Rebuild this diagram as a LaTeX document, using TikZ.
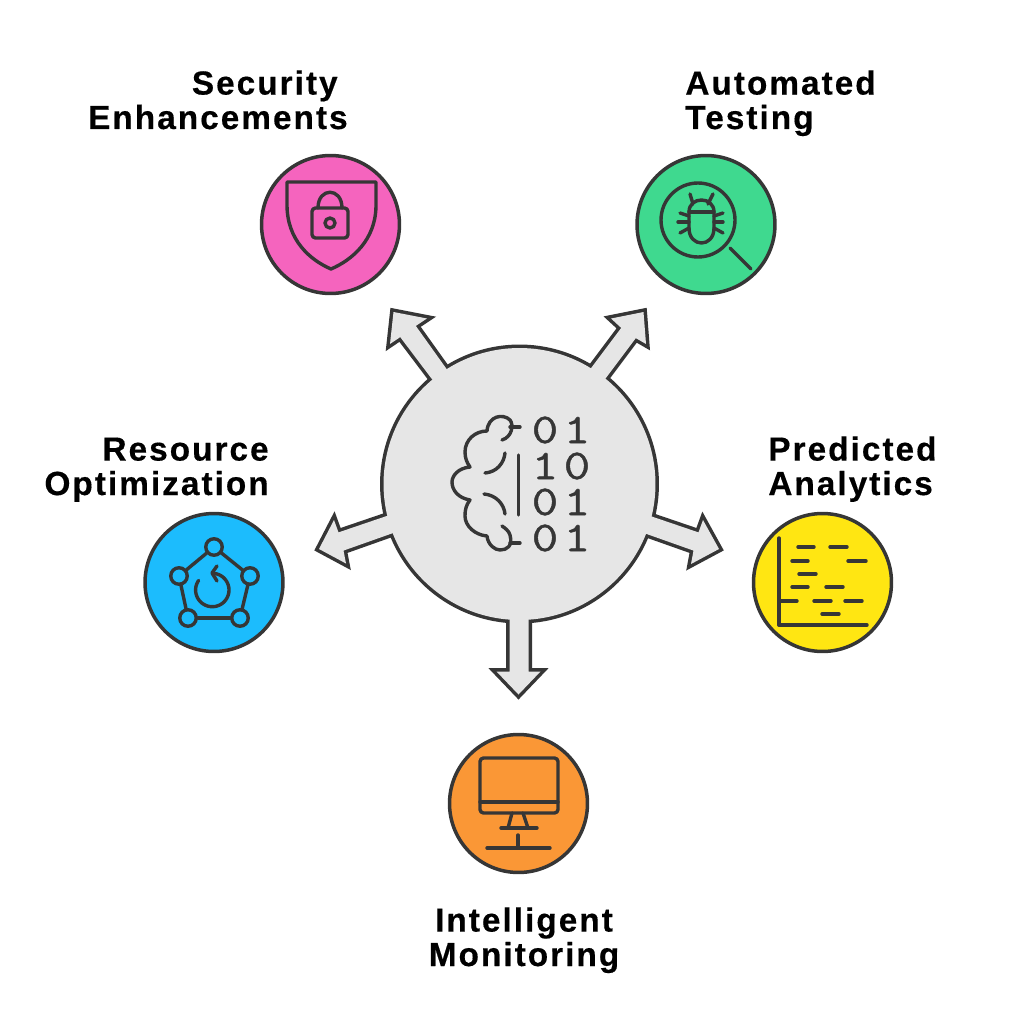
\documentclass[tikz,border=0pt]{standalone}
\usepackage{fontspec}
\setmainfont{Liberation Sans}
\newfontfamily\digitfont[FakeStretch=1.22,FakeBold=1.1]{Latin Modern Mono}
\definecolor{inkline}{HTML}{363636}
\definecolor{hubgray}{HTML}{E6E6E6}
\definecolor{pinkbadge}{HTML}{F564BE}
\definecolor{greenbadge}{HTML}{3FD98F}
\definecolor{bluebadge}{HTML}{1CBCFD}
\definecolor{yellowbadge}{HTML}{FFE612}
\definecolor{orangebadge}{HTML}{FA9736}
\tikzset{
  badge/.style={circle,draw=inkline,line width=0.07cm,minimum size=2.76cm,inner sep=0pt},
  iconline/.style={draw=inkline,line width=0.068cm,line cap=round,line join=round},
  headline/.style={font=\fontsize{19}{19.6}\selectfont\bfseries\addfontfeature{LetterSpace=6,FakeBold=0.4},text=black,inner sep=0pt},
  digit/.style={font=\fontsize{24}{24}\selectfont\digitfont,text=inkline,inner sep=0pt},
  hubedge/.style={draw=inkline,line width=0.14cm,line join=miter,miter limit=4},
}
\begin{document}
\begin{tikzpicture}[x=0.02cm,y=-0.02cm]
    \useasboundingbox (0,0) rectangle (1024,1024);
    \coordinate (c) at (519.5,484);

    % Drawing outline of hub and its five arrows
    \draw [hubedge] (c) circle (2.72cm);%
    \draw [hubedge] (c) -- (445.8,367.9) -- (415.8,325.9) -- (427,318.5) -- (393.5,312) -- (390,344) -- (400.2,337.1) -- (431.2,378.1) -- cycle;%
    \draw [hubedge] (c) -- (591.2,367.9) -- (621.2,327.9) -- (611,318.5) -- (643.5,312) -- (646,344) -- (635.8,338.1) -- (605.8,378.1) -- cycle;%
    \draw [hubedge] (c) -- (651.5,516.4) -- (698.5,532.4) -- (703,520) -- (719,549) -- (691,564) -- (693.5,550.6) -- (645.5,533.6) -- cycle;%
    \draw [hubedge] (c) -- (528.5,619) -- (528.5,671.5) -- (540.5,671.5) -- (518.5,694.5) -- (496.5,671.5) -- (509.5,671.5) -- (509.5,619) -- cycle;%
    \draw [hubedge] (c) -- (385.5,516.4) -- (338.5,532.4) -- (334,520) -- (319,549) -- (346,563.5) -- (343.5,550.6) -- (391.5,533.6) -- cycle;%

    % Filling hub and its five arrows
    \fill [hubgray] (c) circle (2.72cm);%
    \fill [hubgray] (c) -- (445.8,367.9) -- (415.8,325.9) -- (427,318.5) -- (393.5,312) -- (390,344) -- (400.2,337.1) -- (431.2,378.1) -- cycle;%
    \fill [hubgray] (c) -- (591.2,367.9) -- (621.2,327.9) -- (611,318.5) -- (643.5,312) -- (646,344) -- (635.8,338.1) -- (605.8,378.1) -- cycle;%
    \fill [hubgray] (c) -- (651.5,516.4) -- (698.5,532.4) -- (703,520) -- (719,549) -- (691,564) -- (693.5,550.6) -- (645.5,533.6) -- cycle;%
    \fill [hubgray] (c) -- (528.5,619) -- (528.5,671.5) -- (540.5,671.5) -- (518.5,694.5) -- (496.5,671.5) -- (509.5,671.5) -- (509.5,619) -- cycle;%
    \fill [hubgray] (c) -- (385.5,516.4) -- (338.5,532.4) -- (334,520) -- (319,549) -- (346,563.5) -- (343.5,550.6) -- (391.5,533.6) -- cycle;%

    % Drawing brain of hub
    \draw [iconline] (520,427) -- (510,427);%
    \draw [iconline] (502,440) .. controls (512,437) and (514,425) .. (510,420) .. controls (503,413) and (488,416) .. (487,431) .. controls (475,431) and (465,440) .. (465,452) .. controls (465,458) and (467,463) .. (470,467) .. controls (458,468) and (452,476) .. (452,482) .. controls (452,490) and (458,498) .. (470,500) .. controls (466,505) and (465,510) .. (465,516) .. controls (465,526) and (475,535) .. (487,536) .. controls (488,545) and (495,550) .. (500,550) .. controls (507,550) and (513,546) .. (510,535) .. controls (509,531) and (505,528) .. (502,526);%
    \draw [iconline] (510,543) -- (520,543);%
    \draw [iconline] (505,453) .. controls (504,463) and (497,472) .. (485,473);%
    \draw [iconline] (484,494) .. controls (496,495) and (504,504) .. (505,514);%
    \draw [iconline] (518.5,455) -- (518.5,515);%

    % Marking digits of hub
    \foreach \row/\ypos/\first/\second in {a/430/0/1, b/466/1/0, c/502/0/1, d/538/0/1} {
        \node [digit] (left\row) at (545,\ypos) {\first};
        \node [digit] (right\row) at (577,\ypos) {\second};
    }

    % Marking badges
    \node [badge,fill=pinkbadge] (security) at (330.5,224.5) {};
    \node [badge,fill=greenbadge] (testing) at (706,224.5) {};
    \node [badge,fill=bluebadge] (resource) at (214,582.5) {};
    \node [badge,fill=yellowbadge] (analytics) at (822.5,582.5) {};
    \node [badge,fill=orangebadge] (monitoring) at (518.5,803.5) {};

    % Drawing shield and lock
    \draw [iconline] (287,182) -- (287,205) .. controls (287,240) and (310,260) .. (331,269) .. controls (352,260) and (376,240) .. (376,205) -- (376,182) -- cycle;%
    \draw [iconline,rounded corners=2] (312,208) rectangle (348,238);%
    \draw [iconline] (318,208) .. controls (318,187) and (342,187) .. (342,208);%
    \draw [iconline] (330,223) circle (0.1cm);%

    % Drawing magnifier and bug
    \draw [iconline] (698,220) circle (0.74cm);%
    \draw [iconline] (730,248) -- (751,269);%
    \draw [iconline] (689,212) .. controls (689,196) and (714,196) .. (714,212) -- (714,228) .. controls (714,248) and (689,248) .. (689,228) -- cycle;%
    \draw [iconline] (689,212) -- (714,212);%
    \draw [iconline] (690,194) -- (693,204);%
    \draw [iconline] (713,194) -- (708,204);%
    \draw [iconline] (680,213) -- (689,216);%
    \draw [iconline] (678,222) -- (689,222);%
    \draw [iconline] (680,233) -- (689,228);%
    \draw [iconline] (723,213) -- (714,216);%
    \draw [iconline] (723,222) -- (714,222);%
    \draw [iconline] (723,233) -- (714,228);%

    % Drawing pentagon and loop
    \foreach \pname/\ppos in {pa/{214,547}, pb/{250,576}, pc/{240,618}, pd/{188,618}, pe/{179,576}} {
        \node [circle,iconline,minimum size=0.33cm,inner sep=0pt] (\pname) at (\ppos) {};
    }
    \draw [iconline] (pa) -- (pb);%
    \draw [iconline] (pb) -- (pc);%
    \draw [iconline] (pc) -- (pd);%
    \draw [iconline] (pd) -- (pe);%
    \draw [iconline] (pe) -- (pa);%
    \draw [iconline] plot [domain=145:445,samples=50,smooth] ({212.3+16.7*cos(\x)},{590-16.7*sin(\x)});%
    \draw [iconline] (217,566) -- (212,573) -- (217,581);%

    % Drawing chart
    \draw [iconline] (779,538) -- (779,625) -- (867,625);%
    \foreach \xa/\xb/\ypos in {798/814/547, 830/847/547, 792/808/561, 848/866/561, 799/816/574, 792/808/587, 826/843/587, 780/797/601, 814/831/601, 845/862/601, 822/839/614} {
        \draw [iconline] (\xa,\ypos) -- (\xb,\ypos);%
    }

    % Drawing monitor
    \draw [iconline,rounded corners=2] (480,758) rectangle (558,813);%
    \draw [iconline] (480,802) -- (558,802);%
    \draw [iconline] (512,813) -- (508,828);%
    \draw [iconline] (523,813) -- (528,828);%
    \draw [iconline] (501,828) -- (537,828);%
    \draw [iconline] (518,835) -- (518,848);%
    \draw [iconline] (487,848) -- (550,848);%

    % Marking captions
    \node [headline,align=right,anchor=base east] (securitytext) at (348,129) {Security\hspace*{0.2cm}\\Enhancements};
    \node [headline,align=left,anchor=base west] (testingtext) at (685,129) {Automated\\Testing};
    \node [headline,align=right,anchor=base east] (resourcetext) at (269,495) {Resource\\Optimization};
    \node [headline,align=left,anchor=base west] (analyticstext) at (768,495) {Predicted\\Analytics};
    \node [headline,align=center,anchor=base] (monitoringtext) at (524,966) {Intelligent\\Monitoring};
\end{tikzpicture}
\end{document}
